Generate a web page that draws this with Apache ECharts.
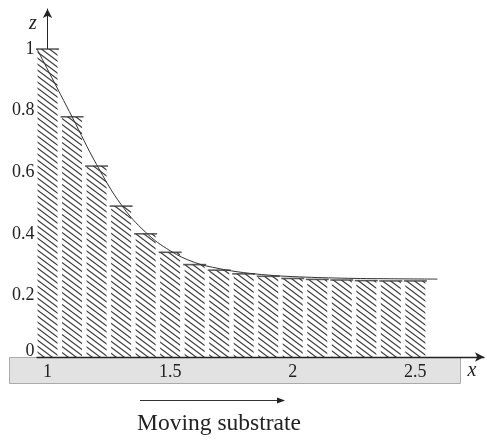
<!DOCTYPE html>
<html>
<head>
<meta charset="utf-8">
<script src="https://cdn.jsdelivr.net/npm/echarts@6/dist/echarts.min.js"></script>
<style>
  html, body { margin: 0; padding: 0; background: #fff; }
  #chart { width: 487px; height: 441px; }
</style>
</head>
<body>
<div id="chart"></div>
<script>
// ---- data ----
const barX = [1.0, 1.1, 1.2, 1.3, 1.4, 1.5, 1.6, 1.7, 1.8, 1.9, 2.0, 2.1, 2.2, 2.3, 2.4, 2.5];
const barZ = [1.0, 0.78, 0.62, 0.49, 0.40, 0.34, 0.30, 0.282, 0.27, 0.262, 0.255, 0.252, 0.25, 0.248, 0.247, 0.247];
const curveX = [0.957, 1.1, 1.2, 1.3, 1.4, 1.5, 1.6, 1.7, 1.8, 1.9, 2.0, 2.2, 2.4, 2.59];
const curveZ = [1.0, 0.78, 0.625, 0.495, 0.405, 0.345, 0.307, 0.287, 0.274, 0.266, 0.261, 0.256, 0.254, 0.253];
const xTickLabels = [1, 1.5, 2, 2.5];
const zTickLabels = [0, 0.2, 0.4, 0.6, 0.8, 1];

// ---- hatch pattern ----
const pc = document.createElement('canvas');
pc.width = 8; pc.height = 6;
const g = pc.getContext('2d');
g.fillStyle = '#ffffff';
g.fillRect(0, 0, 8, 6);
g.strokeStyle = '#3a3a3a';
g.lineWidth = 1.15;
for (let k = -2; k <= 2; k++) {
  g.beginPath();
  g.moveTo(-8, -6 + k * 6);
  g.lineTo(16, 12 + k * 6);
  g.stroke();
}

const chart = echarts.init(document.getElementById('chart'), null, { renderer: 'canvas' });
const serif = 'Liberation Serif, Times New Roman, serif';

chart.setOption({
  animation: false,
  backgroundColor: '#fff',
  grid: { left: 37, right: 3, top: 9, bottom: 84 },
  xAxis: {
    type: 'value',
    min: 0.957,
    max: 2.78,
    splitLine: { show: false },
    axisLine: { show: true, onZero: false, symbol: ['none', 'arrow'], symbolSize: [7, 9],
      lineStyle: { color: '#222', width: 1.3 } },
    axisTick: { show: false },
    axisLabel: { customValues: xTickLabels, margin: 6, color: '#222',
      fontFamily: serif, fontSize: 18 },
    z: 5
  },
  yAxis: {
    type: 'value',
    min: 0,
    max: 1.13,
    offset: -10.5,
    splitLine: { show: false },
    axisLine: { show: true, symbol: ['none', 'arrow'], symbolSize: [7, 9],
      lineStyle: { color: '#222', width: 1 } },
    axisTick: { show: false },
    axisLabel: {
      customValues: zTickLabels, margin: 13, color: '#222',
      fontFamily: serif, fontSize: 18,
      formatter: v => (v === 0 ? '{zero|0}' : String(v)),
      rich: { zero: { fontFamily: serif, fontSize: 18, color: '#222', padding: [0, 0, 12, 0] } }
    }
  },
  graphic: [
    { type: 'rect', z: -10, shape: { x: 9.5, y: 357.5, width: 451, height: 26 },
      style: { fill: '#e2e2e2', stroke: '#aaaaaa', lineWidth: 1 } },
    { type: 'text', x: 33, y: 24, style: { text: 'z', fontFamily: serif, fontStyle: 'italic',
      fontSize: 20, fill: '#222', align: 'center', verticalAlign: 'middle' } },
    { type: 'text', x: 472, y: 371, style: { text: 'x', fontFamily: serif, fontStyle: 'italic',
      fontSize: 20, fill: '#222', align: 'center', verticalAlign: 'middle' } },
    { type: 'line', shape: { x1: 140, y1: 400.5, x2: 280, y2: 400.5 },
      style: { stroke: '#333', lineWidth: 1 } },
    { type: 'polygon', shape: { points: [[285, 400.5], [277, 397.5], [277, 403.5]] },
      style: { fill: '#222' } },
    { type: 'text', x: 219, y: 424, style: { text: 'Moving substrate', fontFamily: serif,
      fontSize: 23.5, fill: '#222', align: 'center', verticalAlign: 'middle' } }
  ],
  series: [
    {
      type: 'bar',
      clip: false,
      barWidth: 20,
      data: barX.map((x, i) => [x, barZ[i]]),
      itemStyle: { color: { image: pc, repeat: 'repeat' } },
      z: 2
    },
    {
      type: 'scatter',
      symbol: 'rect',
      symbolSize: [23, 1.6],
      data: barX.map((x, i) => [x, barZ[i]]),
      itemStyle: { color: '#333' },
      z: 3
    },
    {
      type: 'line',
      smooth: 0.4,
      showSymbol: false,
      data: curveX.map((x, i) => [x, curveZ[i]]),
      lineStyle: { color: '#333', width: 1 },
      z: 4
    }
  ]
});
</script>
</body>
</html>
